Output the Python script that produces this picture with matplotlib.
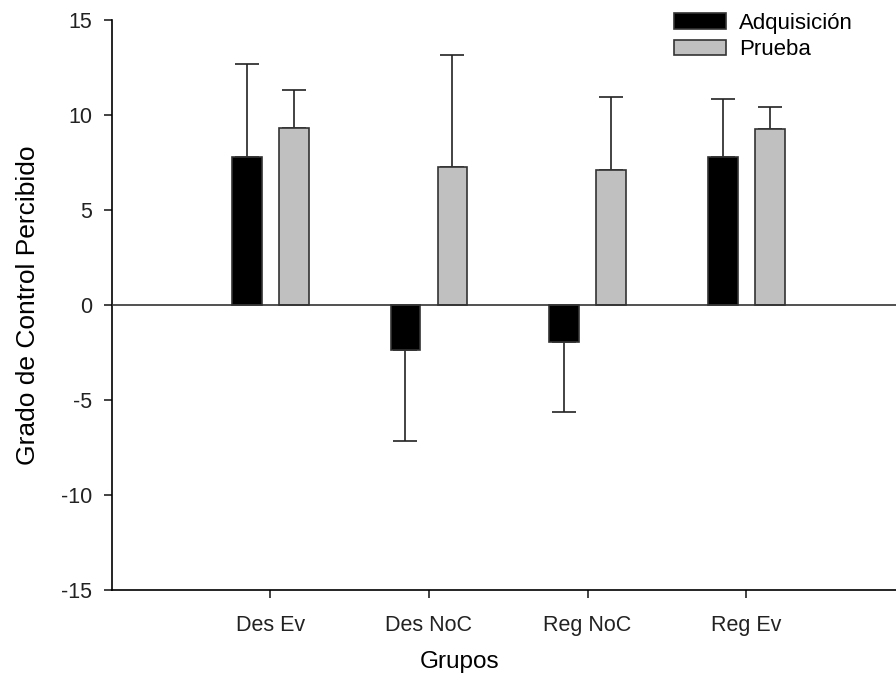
import numpy as np
import matplotlib
matplotlib.use("Agg")
import matplotlib.pyplot as plt

plt.rcParams['font.family'] = ['Liberation Sans', 'DejaVu Sans']
plt.rcParams['axes.unicode_minus'] = False

grupos = ["Des Ev", "Des NoC", "Reg NoC", "Reg Ev"]
adquisicion = [7.8, -2.37, -1.97, 7.8]
adq_err = [4.88, 4.8, 3.67, 3.06]
prueba = [9.33, 7.24, 7.13, 9.24]
prueba_err = [2.0, 5.9, 3.8, 1.2]

W, H = 896, 677
fig = plt.figure(figsize=(W / 100, H / 100), dpi=100)
ax = fig.add_axes([111.5 / W, 1 - 590 / H, 793.5 / W, 570 / H])

x = np.arange(1, len(grupos) + 1)
w = 0.187
off = 0.148


def one_sided(vals, errs):
    # error bar only drawn away from zero
    lo = [0 if v >= 0 else e for v, e in zip(vals, errs)]
    hi = [e if v >= 0 else 0 for v, e in zip(vals, errs)]
    return [lo, hi]


ax.bar(x - off, adquisicion, w, color="black", edgecolor="#333333", linewidth=1.2,
       label="Adquisición", zorder=3)
ax.bar(x + off, prueba, w, color="#c0c0c0", edgecolor="#333333", linewidth=1.2,
       label="Prueba", zorder=3)
ax.errorbar(x - off, adquisicion, yerr=one_sided(adquisicion, adq_err), fmt="none",
            ecolor="#222222", elinewidth=1.2, capsize=8.5, capthick=1.2, zorder=2)
ax.errorbar(x + off, prueba, yerr=one_sided(prueba, prueba_err), fmt="none",
            ecolor="#222222", elinewidth=1.2, capsize=8.5, capthick=1.2, zorder=2)

ax.axhline(0, color="#333333", linewidth=1.2, zorder=4)

ax.set_xlim(0, 5)
ax.set_ylim(-15, 15)
ax.set_yticks([-15, -10, -5, 0, 5, 10, 15])
ax.set_xticks(x)
ax.set_xticklabels(grupos)
ax.spines['top'].set_visible(False)
ax.spines['right'].set_visible(False)
ax.spines['left'].set_linewidth(1.2)
ax.spines['bottom'].set_linewidth(1.2)
ax.tick_params(direction="out", length=5.8, width=1.2, labelsize=15.5, colors="#222222")
ax.tick_params(axis="y", pad=8)
ax.tick_params(axis="x", pad=12)

ax.set_xlabel("Grupos", fontsize=17.5)
ax.xaxis.set_label_coords(0.439, -0.107)
ax.set_ylabel("Grado de Control Percibido", fontsize=19)
ax.yaxis.set_label_coords(-0.090, 0.5)

ax.legend(loc="upper left", bbox_to_anchor=(674 / W, 1 - 13 / H),
          bbox_transform=fig.transFigure, frameon=False, borderpad=0,
          borderaxespad=0, fontsize=16, handlelength=2.34, handleheight=0.72,
          labelspacing=0.24, handletextpad=0.6)

fig.savefig("out.png", dpi=100)
